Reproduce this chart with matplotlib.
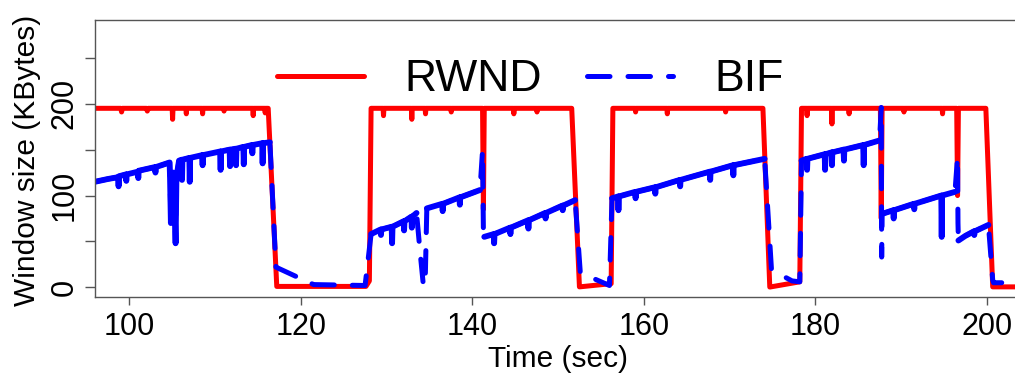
import matplotlib
matplotlib.use('Agg')
import matplotlib.pyplot as plt
import numpy as np

plt.rcParams['font.family'] = ['Liberation Sans', 'DejaVu Sans']

# receive window (KBytes)
rwnd_t = [96.0, 99.0, 99.1, 99.2, 102.0, 102.1, 102.2, 105.0, 105.05, 105.1,
          106.6, 106.65, 106.7, 108.5, 108.55, 108.6, 111.0, 111.05, 111.1,
          114.4, 114.45, 114.5, 115.8, 115.85, 115.9, 116.2, 117.2, 127.6, 128.0,
          128.2, 129.6, 129.65, 129.7, 132.9, 132.95, 133.0, 134.5, 134.55, 134.6,
          137.5, 137.55, 137.6, 141.2, 141.3, 141.4, 144.8, 144.85, 144.9,
          147.5, 147.55, 147.6, 151.6, 152.5, 156.2, 156.4, 159.0, 159.05, 159.1,
          162.7, 162.75, 162.8, 169.5, 169.55, 169.6, 173.9, 174.7, 178.2, 178.4,
          179.0, 179.05, 179.1, 181.9, 181.95, 182.0, 183.9, 183.95, 184.0,
          187.6, 187.7, 187.8, 190.3, 190.35, 190.4, 194.8, 194.85, 194.9,
          196.5, 196.6, 196.7, 199.9, 200.7, 203.3]
rwnd_kb = [195, 195, 191, 195, 195, 192, 195, 195, 183, 195,
           195, 189, 195, 195, 189, 195, 195, 192, 195,
           195, 187, 195, 195, 190, 195, 195, 1, 1, 7,
           195, 195, 187, 195, 195, 183, 195, 195, 189, 195,
           195, 191, 195, 195, 85, 195, 195, 189, 195,
           195, 191, 195, 195, 0.5, 4, 195, 195, 191, 195,
           195, 189, 195, 195, 191, 195, 195, 0.3, 6, 195,
           195, 187, 195, 195, 178, 195, 195, 189, 195,
           195, 75, 195, 195, 191, 195, 195, 189, 195,
           195, 100, 195, 195, 0.5, 0.5]

# bytes in flight (KBytes)
bif_t = [96.0, 97.5, 98.7, 98.75, 98.8, 99.6, 99.65, 99.7, 101.0, 101.05, 101.1,
         103.0, 103.05, 103.1, 104.7, 104.75, 104.85, 104.95, 105.05, 105.15,
         105.3, 105.4, 105.5, 105.8, 106.1, 106.15, 106.2, 107.0, 107.05, 107.1,
         108.5, 108.55, 108.6, 110.6, 110.65, 110.7, 111.7, 111.75, 111.8,
         112.4, 112.45, 112.5, 113.3, 113.35, 113.4, 114.3, 114.35, 114.4,
         115.5, 115.55, 115.6, 116.4, 117.1, 121.5, 127.5, 128.2,
         129.3, 129.35, 129.4, 130.6, 130.65, 130.7, 132.0, 132.05, 132.1,
         132.9, 132.95, 133.0, 133.5, 133.9, 134.3, 134.5, 134.7,
         136.5, 136.55, 136.6, 138.5, 138.55, 138.6, 140.9, 141.2, 141.3, 141.4,
         142.5, 142.55, 142.6, 144.4, 144.45, 144.5, 146.5, 146.55, 146.6,
         148.5, 148.55, 148.6, 150.5, 150.55, 150.6, 152.0, 152.6, 156.0, 156.3,
         157.0, 157.05, 157.1, 159.0, 159.05, 159.1, 161.3, 161.35, 161.4,
         164.2, 164.25, 164.3, 167.7, 167.75, 167.8, 170.4, 170.45, 170.5,
         174.1, 174.9, 177.3, 178.2, 178.4,
         179.0, 179.05, 179.1, 181.1, 181.15, 181.2, 181.9, 181.95, 182.0,
         183.3, 183.35, 183.4, 185.6, 185.65, 185.7, 187.5, 187.7, 187.75, 187.8,
         189.1, 189.15, 189.2, 191.5, 191.55, 191.6, 194.7, 194.75, 194.8,
         196.3, 196.6, 196.65, 196.7, 197.5, 198.5, 198.55, 198.6, 200.2,
         200.7, 200.8, 201.75]
bif_kb = [115, 118, 120, 110, 121, 123, 116, 123, 126, 119, 127,
          131, 125, 131, 136, 120, 70, 108, 95, 125,
          85, 48, 120, 138, 139, 117, 139, 141, 115, 141,
          144, 133, 144, 148, 128, 148, 150, 132, 150,
          151, 133, 151, 153, 134, 153, 155, 146, 155,
          157, 135, 157, 158, 22, 3, 2, 58,
          63, 57, 63, 66, 48, 66, 72, 62, 72,
          77, 65, 77, 81, 40, 2, 2, 86,
          91, 83, 91, 98, 90, 98, 106, 149, 60, 55,
          58, 48, 58, 65, 58, 65, 73, 64, 73,
          81, 75, 81, 89, 84, 89, 95, 16, 2, 97,
          99, 84, 99, 104, 97, 104, 109, 102, 109,
          117, 110, 117, 126, 117, 126, 133, 122, 133,
          140, 19, 7, 6, 138,
          140, 128, 140, 145, 128, 145, 147, 133, 147,
          150, 138, 150, 155, 133, 155, 160, 196, 33, 80,
          84, 75, 84, 91, 85, 91, 100, 55, 100,
          104, 142, 70, 51, 56, 61, 57, 61, 68,
          8, 5, 5]

# stretches where the dense BIF samples blur into a solid band
bif_ramps = [(96.0, 116.4), (128.2, 133.5), (134.7, 140.9), (141.4, 152.0),
             (156.3, 174.1), (178.4, 187.5), (187.8, 196.3), (196.7, 200.2)]

x_ticks = [100, 120, 140, 160, 180, 200]
y_ticks = [0, 50, 100, 150, 200, 250]
y_tick_labels = ['0', '', '100', '', '200', '']

W, H = 1015, 375
fig = plt.figure(figsize=(W / 100, H / 100), dpi=100)
ax = fig.add_axes([95 / W, 1 - 296.7 / H, 920 / W, 276.7 / H])

ax.plot(rwnd_t, rwnd_kb, color='#ff0000', lw=3.6, solid_joinstyle='round',
        solid_capstyle='round', label='RWND')
ax.plot(bif_t, bif_kb, color='#0000ff', lw=3.6, dashes=(4.5, 3.6),
        dash_capstyle='round', dash_joinstyle='round', label='BIF')

t = np.array(bif_t)
v = np.array(bif_kb)
for t0, t1 in bif_ramps:
    m = (t >= t0) & (t <= t1)
    ax.plot(t[m], v[m], color='#0000ff', lw=4.2, solid_joinstyle='round',
            solid_capstyle='round')

ax.set_xlim(96.0, 203.3)
ax.set_ylim(-10.2, 291.2)

for side in ['top', 'left', 'bottom']:
    ax.spines[side].set_color('#555555')
    ax.spines[side].set_linewidth(1.0)
ax.spines['right'].set_visible(False)

ax.set_xticks(x_ticks)
ax.set_yticks(y_ticks)
ax.set_yticklabels(y_tick_labels, rotation=90, va='center')
ax.tick_params(axis='x', length=5.8, width=1.0, color='#555555', labelsize=22, pad=5)
ax.tick_params(axis='y', length=7.2, width=1.0, color='#555555', labelsize=22, pad=4)

ax.set_xlabel('Time (sec)', fontsize=21.5)
ax.set_ylabel('Window size (KBytes)', fontsize=21.5)
ax.xaxis.set_label_coords(0.503, -0.175)
ax.yaxis.set_label_coords(-0.059, 0.494)

ax.legend(loc='center', bbox_to_anchor=(0.473, 0.784), ncol=2, frameon=False,
          fontsize=32, handlelength=1.95, handletextpad=0.92, columnspacing=1.0,
          borderpad=0, borderaxespad=0)

fig.savefig('out.png', dpi=100)
